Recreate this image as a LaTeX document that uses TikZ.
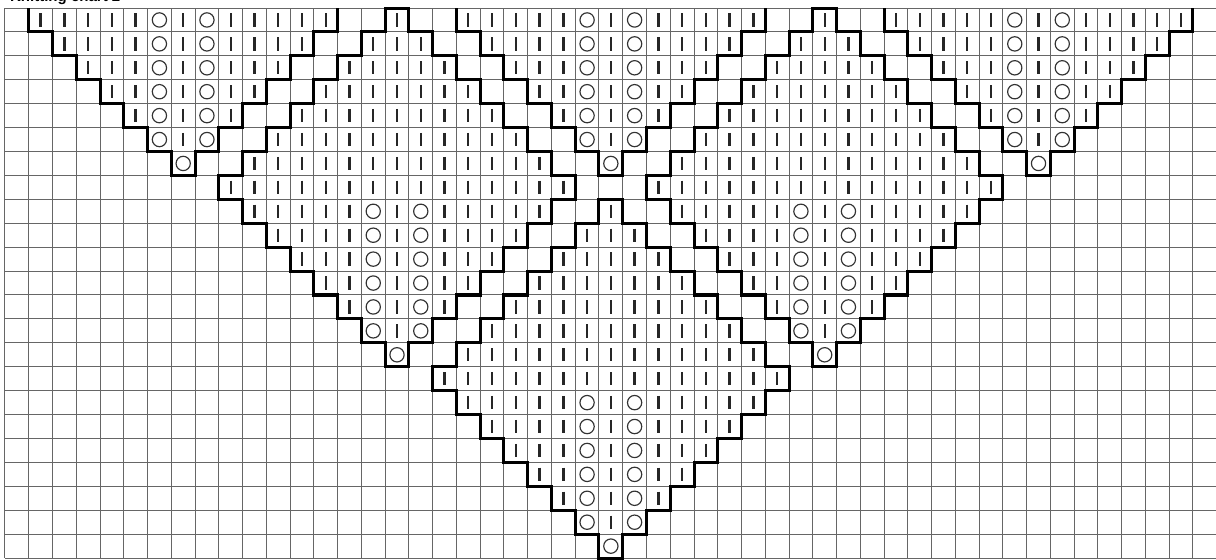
\documentclass[tikz,border=0pt]{standalone}
\usepackage{fontspec}
\setsansfont{Liberation Sans}
\usetikzlibrary{calc}

% lower half of a lace motif: centre column #1, widest row #2
\newcommand{\lacerows}[2]{%
  \foreach \k in {0,...,5}{
    \foreach \i in {-6,...,6}{
      \pgfmathtruncatemacro\inside{abs(\i)<=6-\k}
      \ifnum\inside=1
        \pgfmathtruncatemacro\side{abs(\i)}
        \ifnum\side=1
          \draw[hole] ({#1+\i+.5},{#2+\k+.5}) circle (.3);
        \else
          \draw[bar] ({#1+\i+.5},{#2+\k+.22}) -- ++(0,.56);
        \fi
      \fi
    }
  }
  \draw[hole] ({#1+.5},{#2+6.5}) circle (.3);
}
% open V at the top edge
\newcommand{\laceV}[2]{%
  \lacerows{#1}{#2}
  \draw[motif] ({#1-6},{#2}) \foreach \s in {1,...,7}{ -- ++(0,1) -- ++(1,0) }
    \foreach \s in {1,...,6}{ -- ++(0,-1) -- ++(1,0) } -- ++(0,-1);
}
% whole diamond: centre column #1, peak row #2
\newcommand{\lacediamond}[2]{%
  \foreach \k in {0,...,7}{
    \foreach \i in {-\k,...,\k}{
      \draw[bar] ({#1+\i+.5},{#2+\k+.22}) -- ++(0,.56);
    }
  }
  \lacerows{#1}{#2+8}
  \draw[motif] ({#1},{#2}) \foreach \s in {1,...,8}{ -- ++(1,0) -- ++(0,1) }
    \foreach \s in {1,...,7}{ -- ++(-1,0) -- ++(0,1) } -- ++(-1,0)
    \foreach \s in {1,...,7}{ -- ++(0,-1) -- ++(-1,0) }
    \foreach \s in {1,...,7}{ -- ++(0,-1) -- ++(1,0) } -- cycle;
}

\begin{document}
\begin{tikzpicture}[
  x=0.5cm, y=-0.5033cm,
  gridline/.style={draw=black!60, line width=0.6pt},
  motif/.style={draw=black, line width=1.8pt, line join=miter},
  bar/.style={draw=black!85, line width=1.4pt},
  hole/.style={draw=black!80, line width=0.7pt}
]
  \useasboundingbox[fill=white] (-0.21,-0.335) rectangle (50.97,23.08);
  \node[anchor=base west, inner sep=0pt, font=\sffamily\bfseries\small] (title) at (0.2,-0.29) {Knitting chart 2};

  % grid
  \foreach \c in {0,...,51} \draw[gridline] (\c,0) -- (\c,23);
  \foreach \r in {0,...,23} \draw[gridline] (0,\r) -- (51,\r);

  % V motifs along the top
  \laceV{7}{0}
  \laceV{25}{0}
  \laceV{43}{0}

  % diamonds
  \lacediamond{16}{0}
  \lacediamond{34}{0}
  \lacediamond{25}{8}
\end{tikzpicture}
\end{document}
